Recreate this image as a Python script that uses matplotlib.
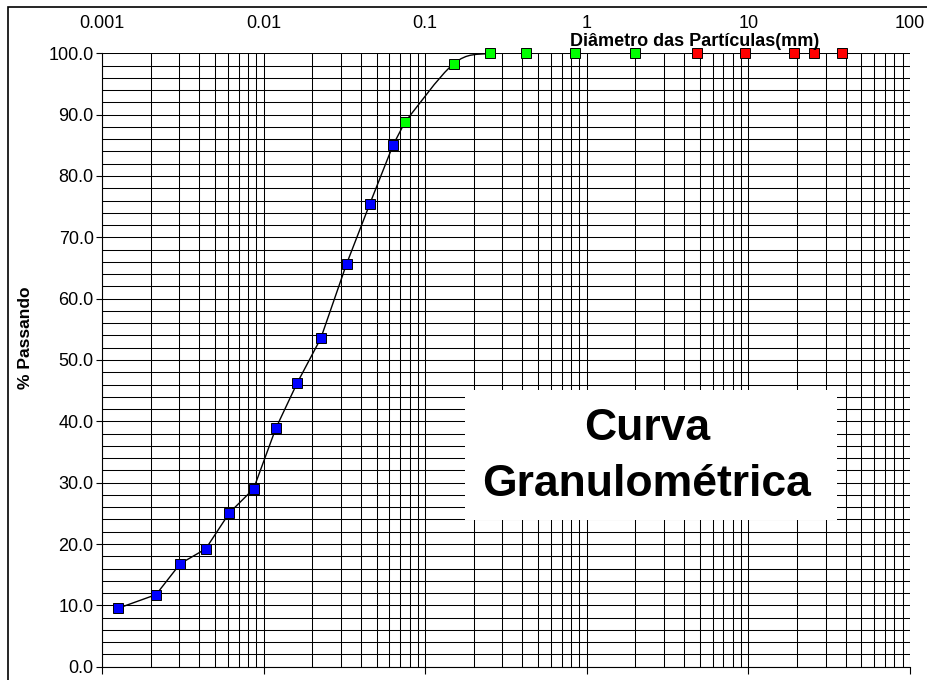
import numpy as np
import matplotlib
matplotlib.use("Agg")
import matplotlib.pyplot as plt
from matplotlib.path import Path
from matplotlib.patches import PathPatch, Rectangle
from matplotlib.ticker import (FixedLocator, FixedFormatter, LogLocator,
                               NullFormatter, MultipleLocator, FormatStrFormatter)

plt.rcParams['font.family'] = ['Liberation Sans', 'DejaVu Sans']

# sedimentação (azul)
diam_sed = [0.00125, 0.00216, 0.00305, 0.00438, 0.00615, 0.00867,
            0.0119, 0.0161, 0.0226, 0.0326, 0.0455, 0.0633]
pass_sed = [9.5, 11.75, 16.8, 19.2, 25.1, 29.0,
            38.85, 46.2, 53.55, 65.65, 75.5, 85.05]

# peneiramento fino (verde)
diam_fino = [0.075, 0.15, 0.25, 0.42, 0.84, 2.0]
pass_fino = [88.8, 98.3, 100.0, 100.0, 100.0, 100.0]

# peneiramento grosso (vermelho)
diam_grosso = [4.8, 9.5, 19.1, 25.4, 38.1]
pass_grosso = [100.0, 100.0, 100.0, 100.0, 100.0]

x_ticks = [0.001, 0.01, 0.1, 1, 10, 100]
x_tick_labels = ["0.001", "0.01", "0.1", "1", "10", "100"]


def smooth_path(xs, ys):
    """
    linha suavizada (estilo Excel) em escala log
    """
    pts = np.column_stack([np.log10(xs), ys])
    n = len(pts)
    verts = [pts[0]]
    codes = [Path.MOVETO]
    for i in range(n - 1):
        p0 = pts[i - 1] if i > 0 else pts[i]
        p1 = pts[i]
        p2 = pts[i + 1]
        p3 = pts[i + 2] if i + 2 < n else pts[i + 1]
        verts += [p1 + (p2 - p0) / 6, p2 - (p3 - p1) / 6, p2]
        codes += [Path.CURVE4] * 3
    verts = np.array(verts)
    verts[:, 0] = 10 ** verts[:, 0]
    return Path(verts, codes)


W, H = 927, 680
fig = plt.figure(figsize=(W / 100, H / 100), dpi=100)
ax = fig.add_axes([102 / W, 1 - 666.7 / H, (910 - 102) / W, (666.7 - 53.3) / H])

ax.set_xscale('log')
ax.set_xlim(0.001, 100)
ax.set_ylim(0, 100)

ax.xaxis.set_major_locator(FixedLocator(x_ticks))
ax.xaxis.set_major_formatter(FixedFormatter(x_tick_labels))
ax.xaxis.set_minor_locator(LogLocator(base=10, subs=np.arange(2, 10)))
ax.xaxis.set_minor_formatter(NullFormatter())
ax.yaxis.set_major_locator(MultipleLocator(10))
ax.yaxis.set_minor_locator(MultipleLocator(2))
ax.yaxis.set_major_formatter(FormatStrFormatter('%.1f'))

ax.grid(which='both', color='black', linewidth=0.75)
ax.set_axisbelow(True)

ax.tick_params(axis='x', which='major', direction='out', length=5, width=0.8,
               top=False, bottom=True, labeltop=True, labelbottom=False,
               labelsize=13, pad=10)
ax.tick_params(axis='x', which='minor', length=0)
ax.tick_params(axis='y', which='major', direction='out', length=4, width=0.8,
               labelsize=13, pad=2)
ax.tick_params(axis='y', which='minor', length=0)

for s in ['top', 'right']:
    ax.spines[s].set_visible(False)
for s in ['left', 'bottom']:
    ax.spines[s].set_color('black')
    ax.spines[s].set_linewidth(0.8)

# curva: sedimentação em segmentos retos, peneiras suavizadas
ax.plot(diam_sed + diam_fino[:1], pass_sed + pass_fino[:1],
        color='black', linewidth=1.0, zorder=3)
ax.add_patch(PathPatch(smooth_path(diam_fino + diam_grosso, pass_fino + pass_grosso),
                       facecolor='none', edgecolor='black', linewidth=1.0, zorder=3))

mk = dict(linestyle='none', marker='s', markersize=6.5,
          markeredgecolor='black', markeredgewidth=0.7, zorder=4, clip_on=False)
ax.plot(diam_sed, pass_sed, markerfacecolor='#0000FF', **mk)
ax.plot(diam_fino, pass_fino, markerfacecolor='#00FF00', **mk)
ax.plot(diam_grosso, pass_grosso, markerfacecolor='#FF0000', **mk)

ax.set_ylabel('% Passando', fontsize=12.5, fontweight='bold')
ax.yaxis.set_label_coords((33 - 102) / (910 - 102), (666.7 - 338) / (666.7 - 53.3))

fig.text(695 / W, 1 - 42 / H, 'Diâmetro das Partículas(mm)', fontsize=13,
         fontweight='bold', ha='center', va='center', zorder=5)

# caixa de título
fig.patches.append(Rectangle((465 / W, 1 - 520 / H), (837 - 465) / W, 130 / H,
                             transform=fig.transFigure, facecolor='white',
                             edgecolor='none', zorder=2))
fig.text(647 / W, 1 - 429 / H, 'Curva', fontsize=32, fontweight='bold',
         ha='center', va='center', zorder=5)
fig.text(647 / W, 1 - 485 / H, 'Granulométrica', fontsize=32, fontweight='bold',
         ha='center', va='center', zorder=5)

# borda do gráfico
fig.patches.append(Rectangle((8 / W, -0.1), 1.2, 1.1 - 7 / H,
                             transform=fig.transFigure, facecolor='none',
                             edgecolor='black', linewidth=1.2, zorder=6))

fig.savefig('out.png', dpi=100)
